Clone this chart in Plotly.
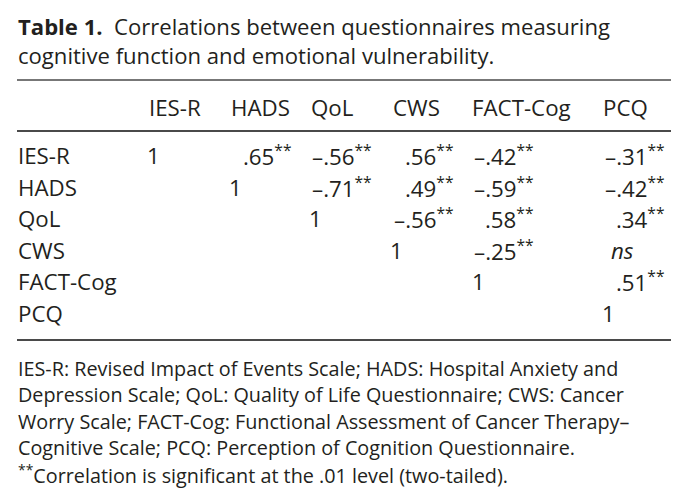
import plotly.graph_objects as go

# ---- data ----
measures = ["IES-R", "HADS", "QoL", "CWS", "FACT-Cog", "PCQ"]
# upper-triangle correlations (None = blank, "ns" = not significant)
corr = [
    [1, 0.65, -0.56, 0.56, -0.42, -0.31],
    [None, 1, -0.71, 0.49, -0.59, -0.42],
    [None, None, 1, -0.56, 0.58, 0.34],
    [None, None, None, 1, -0.25, "ns"],
    [None, None, None, None, 1, 0.51],
    [None, None, None, None, None, 1],
]
title_label = "Table 1."
title_lines = ["Correlations between questionnaires measuring",
               "cognitive function and emotional vulnerability."]
footer_lines = [
    "IES-R: Revised Impact of Events Scale; HADS: Hospital Anxiety and",
    "Depression Scale; QoL: Quality of Life Questionnaire; CWS: Cancer",
    "Worry Scale; FACT-Cog: Functional Assessment of Cancer Therapy–",
    "Cognitive Scale; PCQ: Perception of Cognition Questionnaire.",
    "<sup>**</sup>Correlation is significant at the .01 level (two-tailed).",
]

# ---- layout positions (page pixels) ----
OFF = 8  # browser body margin
W, H = 688, 503
FONT = "Open Sans"
INK = "#231f20"
left_x = 17
head_left = [148, 230, 310, 392, 471, 602]
one_x = [153, 235, 315, 396, 478, 608]
val_right = [200, 293, 373, 455, 535, 666]
header_y = 107.5
row_y = [155.5, 187, 218, 250, 281, 313]
title_y = [26, 55]
footer_y = [368, 394.5, 421, 447.5, 474]
rules = [(80, 1.6), (131, 2.2), (340, 2.2)]
rule_x = (17, 671)

def fmt(v):
    s = f"{abs(v):.2f}".lstrip("0")
    return ("–" if v < 0 else "") + s + "<sup>**</sup>"

fig = go.Figure()

for y, w in rules:
    fig.add_trace(go.Scatter(x=list(rule_x), y=[y, y], mode="lines",
                             line=dict(color="#4a4a4a", width=w),
                             hoverinfo="skip", showlegend=False))

ann = []
tsize = 22.1
csize = 22.3
fsize = 19.8
# title
ann.append(dict(x=left_x, y=title_y[0], xanchor="left", yanchor="middle",
                text=f"<b>{title_label}</b>  {title_lines[0]}",
                font=dict(size=tsize)))
ann.append(dict(x=left_x, y=title_y[1], xanchor="left", yanchor="middle",
                text=title_lines[1], font=dict(size=tsize)))
# header
for j, m in enumerate(measures):
    ann.append(dict(x=head_left[j], y=header_y, xanchor="left", yanchor="middle",
                    text=m, font=dict(size=csize)))
# rows
for i, m in enumerate(measures):
    ann.append(dict(x=left_x, y=row_y[i], xanchor="left", yanchor="middle",
                    text=m, font=dict(size=csize)))
    for j, v in enumerate(corr[i]):
        if v is None:
            continue
        if v == 1:
            ann.append(dict(x=one_x[j], y=row_y[i], xanchor="center", yanchor="middle",
                            text="1", font=dict(size=csize)))
        elif v == "ns":
            ann.append(dict(x=one_x[j] + 2, y=row_y[i], xanchor="left", yanchor="middle",
                            text="<i>ns</i>", font=dict(size=csize)))
        else:
            ann.append(dict(x=val_right[j], y=row_y[i], xanchor="right", yanchor="middle",
                            text=fmt(v), font=dict(size=csize)))
# footer
for k, line in enumerate(footer_lines):
    ann.append(dict(x=left_x, y=footer_y[k], xanchor="left", yanchor="middle",
                    text=line, font=dict(size=fsize)))

for a in ann:
    a.update(xref="x", yref="y", showarrow=False, borderpad=0)
    a["font"].update(family=FONT, color=INK)

fig.update_layout(
    width=W - OFF, height=H - OFF, margin=dict(l=0, r=0, t=0, b=0),
    paper_bgcolor="white", plot_bgcolor="white",
    xaxis=dict(range=[OFF, W], visible=False, fixedrange=True),
    yaxis=dict(range=[H, OFF], visible=False, fixedrange=True),
    annotations=ann, showlegend=False,
)
fig.write_html("out.html", config=dict(displayModeBar=False))
